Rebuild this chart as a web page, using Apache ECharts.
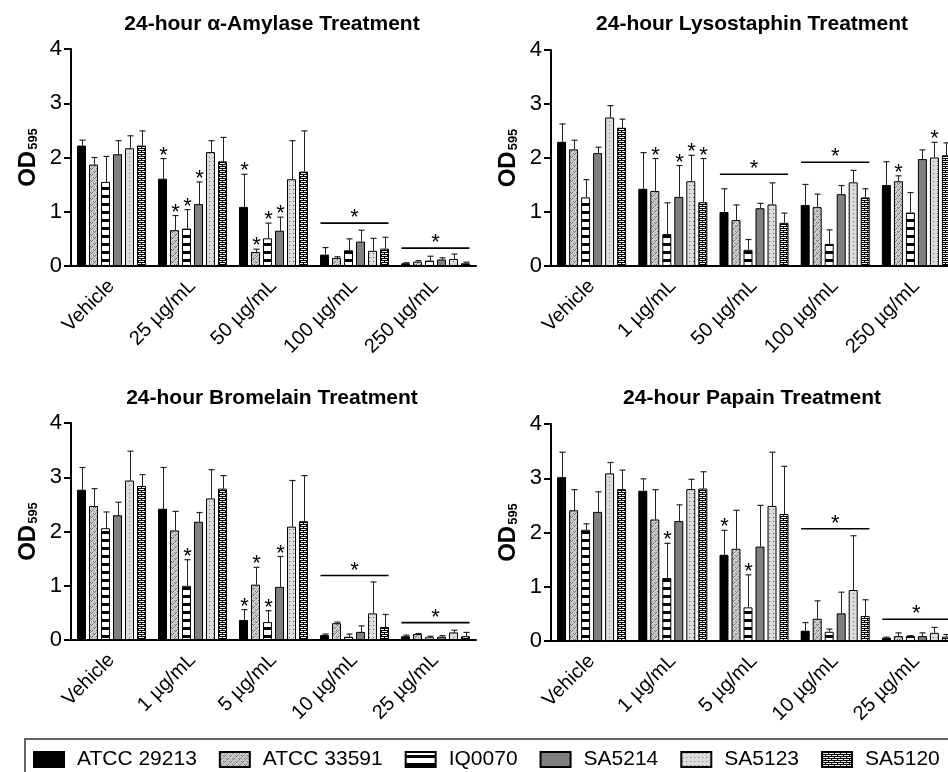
<!DOCTYPE html>
<html>
<head>
<meta charset="utf-8">
<title>24-hour enzyme treatment</title>
<script src="https://cdn.jsdelivr.net/npm/echarts@6/dist/echarts.min.js"></script>
<style>
  html, body { margin: 0; padding: 0; background: #fff; }
  #chart { width: 948px; height: 772px; }
</style>
</head>
<body>
<div id="chart"></div>
<script>
var strains = ["ATCC 29213", "ATCC 33591", "IQ0070", "SA5214", "SA5123", "SA5120"];

// alpha-amylase (rows = strains, cols = doses)
var amylaseDoses = ["Vehicle", "25 µg/mL", "50 µg/mL", "100 µg/mL", "250 µg/mL"];
var amylaseMean = [
  [2.22, 1.61, 1.09, 0.21, 0.05],
  [1.87, 0.66, 0.26, 0.15, 0.08],
  [1.55, 0.69, 0.51, 0.29, 0.10],
  [2.06, 1.14, 0.65, 0.45, 0.12],
  [2.17, 2.10, 1.60, 0.28, 0.13],
  [2.22, 1.93, 1.74, 0.32, 0.05]
];
var amylaseSd = [
  [0.10, 0.37, 0.60, 0.13, 0.01],
  [0.13, 0.27, 0.05, 0.02, 0.02],
  [0.47, 0.35, 0.28, 0.21, 0.08],
  [0.25, 0.41, 0.25, 0.21, 0.03],
  [0.23, 0.21, 0.71, 0.23, 0.09],
  [0.27, 0.44, 0.75, 0.21, 0.02]
];
var amylaseStars = [[1, 0], [1, 1], [1, 2], [1, 3], [2, 0], [2, 1], [2, 2], [2, 3]]; // [dose, strain]
var amylaseLines = [[3, 0.79], [4, 0.33]]; // [dose, height of the group line]

// lysostaphin
var lysoDoses = ["Vehicle", "1 µg/mL", "50 µg/mL", "100 µg/mL", "250 µg/mL"];
var lysoMean = [
  [2.30, 1.43, 1.00, 1.13, 1.50],
  [2.16, 1.39, 0.85, 1.09, 1.57],
  [1.27, 0.59, 0.30, 0.41, 0.99],
  [2.09, 1.28, 1.07, 1.33, 1.98],
  [2.75, 1.57, 1.14, 1.55, 2.01],
  [2.56, 1.18, 0.80, 1.27, 2.05]
];
var lysoSd = [
  [0.33, 0.67, 0.43, 0.38, 0.43],
  [0.17, 0.60, 0.28, 0.24, 0.10],
  [0.33, 0.58, 0.19, 0.26, 0.37],
  [0.11, 0.58, 0.09, 0.16, 0.17],
  [0.22, 0.48, 0.40, 0.22, 0.28],
  [0.16, 0.81, 0.18, 0.16, 0.23]
];
var lysoStars = [[1, 1], [1, 3], [1, 4], [1, 5], [4, 1], [4, 4]];
var lysoLines = [[2, 1.70], [3, 1.92]];

// bromelain
var bromDoses = ["Vehicle", "1 µg/mL", "5 µg/mL", "10 µg/mL", "25 µg/mL"];
var bromMean = [
  [2.77, 2.42, 0.37, 0.09, 0.07],
  [2.47, 2.02, 1.02, 0.31, 0.11],
  [2.06, 1.00, 0.33, 0.06, 0.05],
  [2.30, 2.18, 0.98, 0.15, 0.06],
  [2.94, 2.61, 2.09, 0.49, 0.14],
  [2.84, 2.79, 2.19, 0.24, 0.07]
];
var bromSd = [
  [0.41, 0.76, 0.19, 0.02, 0.02],
  [0.32, 0.35, 0.32, 0.02, 0.01],
  [0.30, 0.48, 0.21, 0.05, 0.02],
  [0.24, 0.17, 0.56, 0.11, 0.02],
  [0.54, 0.53, 0.85, 0.58, 0.04],
  [0.21, 0.24, 0.84, 0.23, 0.07]
];
var bromStars = [[1, 2], [2, 0], [2, 1], [2, 2], [2, 3]];
var bromLines = [[3, 1.19], [4, 0.32]];

// papain
var papDoses = ["Vehicle", "1 µg/mL", "5 µg/mL", "10 µg/mL", "25 µg/mL"];
var papMean = [
  [3.02, 2.77, 1.59, 0.19, 0.06],
  [2.41, 2.24, 1.70, 0.41, 0.09],
  [2.05, 1.16, 0.62, 0.17, 0.09],
  [2.38, 2.21, 1.74, 0.51, 0.09],
  [3.09, 2.80, 2.49, 0.94, 0.15],
  [2.80, 2.81, 2.34, 0.46, 0.08]
];
var papSd = [
  [0.46, 0.22, 0.45, 0.15, 0.01],
  [0.38, 0.55, 0.71, 0.33, 0.06],
  [0.11, 0.64, 0.60, 0.05, 0.01],
  [0.37, 0.30, 0.76, 0.39, 0.06],
  [0.20, 0.18, 0.99, 1.00, 0.10],
  [0.35, 0.31, 0.88, 0.30, 0.04]
];
var papStars = [[1, 2], [2, 0], [2, 2]];
var papLines = [[3, 2.07], [4, 0.40]];

var FONT = "'Liberation Sans', Arial, Helvetica, sans-serif";
var BAR_W = 9, BAR_GAP = 3;

var panels = [
  { title: "24-hour α-Amylase Treatment", doses: amylaseDoses, mean: amylaseMean, sd: amylaseSd,
    stars: amylaseStars, lines: amylaseLines, grid: { left: 71, top: 49, width: 405, height: 217 }, tx: 272, ty: 14 },
  { title: "24-hour Lysostaphin Treatment", doses: lysoDoses, mean: lysoMean, sd: lysoSd,
    stars: lysoStars, lines: lysoLines, grid: { left: 551, top: 50, width: 406, height: 216 }, tx: 752, ty: 14 },
  { title: "24-hour Bromelain Treatment", doses: bromDoses, mean: bromMean, sd: bromSd,
    stars: bromStars, lines: bromLines, grid: { left: 71, top: 423, width: 405, height: 217 }, tx: 272, ty: 388 },
  { title: "24-hour Papain Treatment", doses: papDoses, mean: papMean, sd: papSd,
    stars: papStars, lines: papLines, grid: { left: 551, top: 424, width: 406, height: 217 }, tx: 752, ty: 388 }
];

// fills: solid black, mottled grey, white with black stripes, grey, dotted light grey, bricks
function tile(w, h, bg, marks) {
  var c = document.createElement("canvas");
  c.width = w; c.height = h;
  var ctx = c.getContext("2d");
  ctx.fillStyle = bg;
  ctx.fillRect(0, 0, w, h);
  marks(ctx);
  return { image: c, repeat: "repeat" };
}
var fills = [
  "#000000",
  tile(6, 6, "#cfcfcf", function (ctx) {
    ctx.fillStyle = "#6e6e6e";
    [[0, 0], [2, 0], [1, 1], [3, 3], [5, 3], [4, 4]].forEach(function (p) { ctx.fillRect(p[0], p[1], 1, 1); });
    ctx.fillStyle = "#9c9c9c";
    [[4, 1], [1, 4], [0, 2], [3, 5]].forEach(function (p) { ctx.fillRect(p[0], p[1], 1, 1); });
  }),
  tile(2, 8, "#ffffff", function (ctx) { ctx.fillStyle = "#000"; ctx.fillRect(0, 3, 2, 3); }),
  "#808080",
  tile(4, 4, "#dcdcdc", function (ctx) { ctx.fillStyle = "#6a6a6a"; ctx.fillRect(1, 1, 1, 1); }),
  tile(6, 4, "#f2f2f2", function (ctx) {
    ctx.fillStyle = "#000";
    ctx.fillRect(0, 0, 6, 1); ctx.fillRect(0, 2, 6, 1);
    ctx.fillRect(0, 0, 1, 2); ctx.fillRect(3, 2, 1, 2);
  })
];

function renderErr(params, api) {
  var i = api.value(0), j = api.value(1), m = api.value(2), sd = api.value(3), star = api.value(4);
  var base = api.coord([i, m]);
  var top = api.coord([i, m + sd]);
  var x = Math.round(base[0] + (j - 2.5) * (BAR_W + BAR_GAP)) + 0.5;
  var kids = [
    { type: "line", shape: { x1: x, y1: base[1], x2: x, y2: top[1] }, style: { stroke: "#222", lineWidth: 1 } },
    { type: "line", shape: { x1: x - 3, y1: top[1], x2: x + 3, y2: top[1] }, style: { stroke: "#222", lineWidth: 1.2 } }
  ];
  if (star) {
    kids.push({ type: "text", x: x, y: top[1] - 3,
      style: { text: "*", fontSize: 22, fontFamily: FONT, fill: "#000", align: "center", verticalAlign: "middle" } });
  }
  return { type: "group", children: kids };
}

function renderSig(params, api) {
  var c = api.coord([api.value(0), api.value(1)]);
  var half = api.size([1, 0])[0] * 0.42;
  return { type: "group", children: [
    { type: "line", shape: { x1: c[0] - half, y1: c[1], x2: c[0] + half, y2: c[1] }, style: { stroke: "#000", lineWidth: 1.6 } },
    { type: "text", x: c[0], y: c[1] - 5,
      style: { text: "*", fontSize: 22, fontFamily: FONT, fill: "#000", align: "center", verticalAlign: "middle" } }
  ] };
}

var grids = [], xAxes = [], yAxes = [], titles = [], series = [];
panels.forEach(function (p, k) {
  grids.push(Object.assign({ outerBoundsMode: "none", containLabel: false }, p.grid));
  titles.push({ text: p.title, left: p.tx, top: p.ty, textAlign: "center", padding: 0,
    textStyle: { fontSize: 21, fontWeight: "bold", color: "#000", fontFamily: FONT } });
  xAxes.push({
    type: "category", gridIndex: k, data: p.doses,
    axisLine: { lineStyle: { color: "#000", width: 2 } },
    axisTick: { alignWithLabel: true, length: 6, lineStyle: { color: "#000", width: 2 } },
    axisLabel: { rotate: 45, interval: 0, fontSize: 20, color: "#000", margin: 17, fontFamily: FONT }
  });
  yAxes.push({
    type: "value", gridIndex: k, min: 0, max: 4, interval: 1,
    axisLine: { show: true, lineStyle: { color: "#000", width: 2 } },
    axisTick: { show: true, length: 7, lineStyle: { color: "#000", width: 2 } },
    splitLine: { show: false },
    axisLabel: { fontSize: 22, color: "#000", margin: 9, fontFamily: FONT, padding: [5, 0, 0, 0] },
    name: "{a|OD}{b|595}", nameLocation: "middle", nameRotate: 90, nameGap: 31,
    nameTextStyle: { rich: {
      a: { fontSize: 24, fontWeight: "bold", color: "#000", fontFamily: FONT, verticalAlign: "top", lineHeight: 24 },
      b: { fontSize: 13, fontWeight: "bold", color: "#000", fontFamily: FONT, verticalAlign: "bottom", lineHeight: 13, padding: [14, 0, 0, 1] }
    } }
  });
  strains.forEach(function (name, j) {
    series.push({
      type: "bar", name: name, xAxisIndex: k, yAxisIndex: k, data: p.mean[j],
      barWidth: BAR_W, barGap: (BAR_GAP / BAR_W * 100) + "%",
      itemStyle: { color: fills[j], borderColor: "#000", borderWidth: 1 },
      emphasis: { disabled: true }, z: 2
    });
  });
  var errData = [];
  p.doses.forEach(function (d, i) {
    strains.forEach(function (s, j) {
      var star = p.stars.some(function (st) { return st[0] === i && st[1] === j; }) ? 1 : 0;
      errData.push([i, j, p.mean[j][i], p.sd[j][i], star]);
    });
  });
  series.push({ type: "custom", xAxisIndex: k, yAxisIndex: k, data: errData, renderItem: renderErr, z: 3, silent: true });
  series.push({ type: "custom", xAxisIndex: k, yAxisIndex: k, data: p.lines, renderItem: renderSig, z: 3, silent: true });
});

var myChart = echarts.init(document.getElementById("chart"));
myChart.setOption({
  animation: false,
  backgroundColor: "#fff",
  textStyle: { fontFamily: FONT, color: "#000" },
  title: titles,
  legend: {
    data: strains, left: 25, top: 739, width: 1200, padding: [10, 150, 40, 8],
    icon: "rect", itemWidth: 30, itemHeight: 15, itemGap: 22, selectedMode: false,
    borderColor: "#333", borderWidth: 1.5,
    textStyle: { fontSize: 21, color: "#000", fontFamily: FONT, padding: [0, 0, 0, 8] }
  },
  grid: grids,
  xAxis: xAxes,
  yAxis: yAxes,
  series: series
});
</script>
</body>
</html>
